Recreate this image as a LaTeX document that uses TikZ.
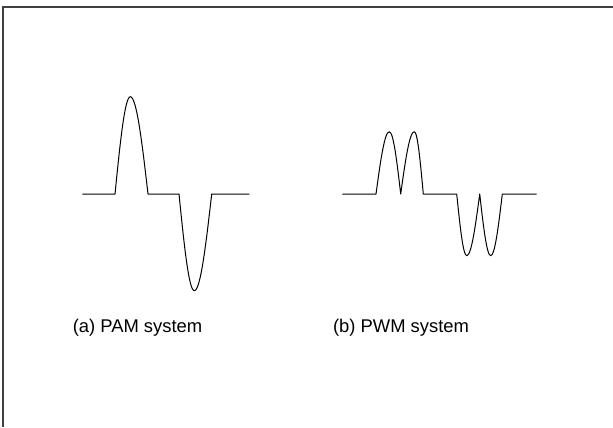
\documentclass[tikz,border=0pt]{standalone}
\usepackage{fontspec}
\setmainfont{Liberation Sans}
\usepackage{tikz}
\usetikzlibrary{positioning,calc}

\begin{document}
\begin{tikzpicture}[x=0.5pt, y=-0.5pt,
    wave/.style={line width=0.5pt, line join=round},
    caption/.style={font=\fontsize{9.2}{11}\selectfont, inner sep=0pt}]
    \useasboundingbox (0,0) rectangle (613,427);
    % frame
    \draw [line width=0.7pt, black!75] (3,427) -- (3,7) -- (613,7);

    % PAM
    \draw [wave] (82.3,194) -- (115,194) sin (130.3,96.7) cos (148,194)
        -- (179,194) sin (194.3,290.7) cos (211.7,194) -- (249.3,194);
    \node [caption] (pam) at (137.5,328) {(a) PAM system};

    % PWM
    \draw [wave] (342.3,194) -- (376,194) sin (389.3,131.7) cos (400.7,194)
        sin (414.3,131.7) cos (423.3,194) -- (456.7,194)
        sin (466.7,255.7) cos (479.7,194) sin (490.7,255.7) cos (502.3,194)
        -- (536.7,194);
    \node [caption] (pwm) at (401,328) {(b) PWM system};
\end{tikzpicture}
\end{document}
